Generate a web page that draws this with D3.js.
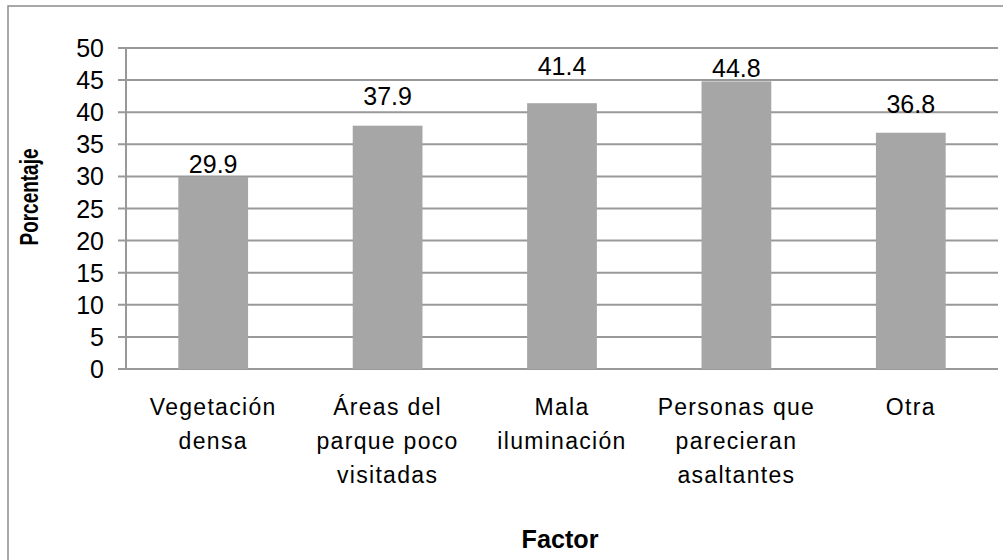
<!DOCTYPE html>
<html>
<head>
<meta charset="utf-8">
<script src="https://cdn.jsdelivr.net/npm/d3@7"></script>
<style>
  body { margin: 0; background: #fff; }
  text { font-family: "Liberation Sans", Arial, sans-serif; fill: #000; }
</style>
</head>
<body>
<div class="graph"></div>
<script>
// chart data
var categories = [
  ["Vegetación", "densa"],
  ["Áreas del", "parque poco", "visitadas"],
  ["Mala", "iluminación"],
  ["Personas que", "parecieran", "asaltantes"],
  ["Otra"]
];
var values = [29.9, 37.9, 41.4, 44.8, 36.8];
var yTicks = [0, 5, 10, 15, 20, 25, 30, 35, 40, 45, 50];
var labelLift = [4, 21, 28, 4, 20]; // labels sit at different heights in the original

var width = 1003, height = 560;
var plot = {left: 126, right: 998, top: 48, bottom: 369};

var svg = d3.select(".graph").append("svg")
    .attr("width", width)
    .attr("height", height);

// outer border (cut off at right and bottom)
svg.append("rect")
    .attr("x", 8).attr("y", 6)
    .attr("width", 1020).attr("height", 580)
    .attr("fill", "none")
    .attr("stroke", "#8c8c8c")
    .attr("stroke-width", 1.5);

var x = d3.scaleBand()
    .domain(d3.range(values.length))
    .range([plot.left, plot.right])
    .paddingInner(0.6)
    .paddingOuter(0.3);

var y = d3.scaleLinear()
    .domain([0, 50])
    .range([plot.bottom, plot.top]);

// gridlines
svg.append("g")
  .selectAll("line")
  .data(yTicks)
  .enter().append("line")
    .attr("x1", plot.left - 8)
    .attr("x2", plot.right)
    .attr("y1", function(d) { return y(d); })
    .attr("y2", function(d) { return y(d); })
    .attr("stroke", "#999")
    .attr("stroke-width", 2);

// y axis line
svg.append("line")
    .attr("x1", plot.left).attr("x2", plot.left)
    .attr("y1", plot.top).attr("y2", plot.bottom)
    .attr("stroke", "#999")
    .attr("stroke-width", 2);

// y tick labels
svg.append("g")
  .selectAll("text")
  .data(yTicks)
  .enter().append("text")
    .attr("x", 104)
    .attr("y", function(d) { return y(d); })
    .attr("dy", "0.36em")
    .attr("text-anchor", "end")
    .style("font-size", "25px")
    .text(function(d) { return d; });

// bars
svg.append("g")
  .selectAll("rect")
  .data(values)
  .enter().append("rect")
    .attr("x", function(d, i) { return x(i); })
    .attr("y", function(d) { return y(d); })
    .attr("width", x.bandwidth())
    .attr("height", function(d) { return y(0) - y(d); })
    .attr("fill", "#a6a6a6");

// value labels
svg.append("g")
  .selectAll("text")
  .data(values)
  .enter().append("text")
    .attr("x", function(d, i) { return x(i) + x.bandwidth() / 2; })
    .attr("y", function(d, i) { return y(d) - labelLift[i]; })
    .attr("text-anchor", "middle")
    .style("font-size", "25px")
    .text(function(d) { return d.toFixed(1); });

// category labels
var cat = svg.append("g")
  .selectAll("text")
  .data(categories)
  .enter().append("text")
    .attr("text-anchor", "middle")
    .style("font-size", "23px")
    .style("letter-spacing", "1.3px");

cat.selectAll("tspan")
  .data(function(d, i) { return d.map(function(s) { return {s: s, i: i}; }); })
  .enter().append("tspan")
    .attr("x", function(d) { return x(d.i) + x.bandwidth() / 2; })
    .attr("y", function(d, j) { return 415 + j * 34; })
    .text(function(d) { return d.s; });

// axis titles
svg.append("text")
    .attr("transform", "translate(38,197) rotate(-90)")
    .attr("text-anchor", "middle")
    .attr("textLength", 97)
    .attr("lengthAdjust", "spacingAndGlyphs")
    .style("font-size", "25px")
    .style("font-weight", "bold")
    .text("Porcentaje");

svg.append("text")
    .attr("x", 560)
    .attr("y", 548)
    .attr("text-anchor", "middle")
    .attr("textLength", 77)
    .attr("lengthAdjust", "spacingAndGlyphs")
    .style("font-size", "26px")
    .style("font-weight", "bold")
    .text("Factor");
</script>
</body>
</html>
